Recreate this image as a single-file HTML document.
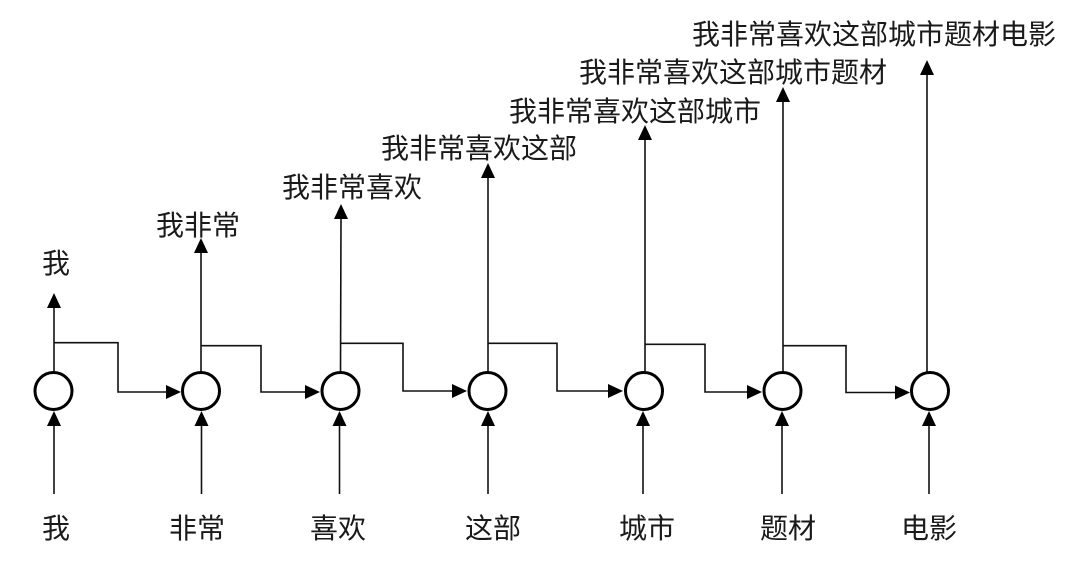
<!DOCTYPE html>
<html>
<head>
<meta charset="utf-8">
<style>
  html,body{margin:0;padding:0;background:#fff;}
  svg{display:block;}
  text{font-family:"Liberation Sans","Noto Sans CJK SC","WenQuanYi Zen Hei",sans-serif;font-size:28px;fill:#1a1a1a;}
</style>
</head>
<body>
<svg width="1080" height="569" viewBox="0 0 1080 569" xmlns="http://www.w3.org/2000/svg">
  <defs>
    <marker id="ah" markerWidth="10" markerHeight="10" refX="9" refY="5" orient="auto" markerUnits="userSpaceOnUse" viewBox="0 0 10 10">
      <path d="M0,0 L10,5 L0,10 z" fill="#000"/>
    </marker>
  </defs>

  <g stroke="#111" stroke-width="1.6" fill="none">
    <!-- up arrows to output labels -->
    <line x1="54" y1="372" x2="54" y2="307"/>
    <line x1="201" y1="372" x2="201" y2="252"/>
    <line x1="340.5" y1="372" x2="341" y2="218"/>
    <line x1="488" y1="372" x2="488" y2="177"/>
    <line x1="645" y1="372" x2="645" y2="139"/>
    <line x1="783" y1="372" x2="783" y2="101"/>
    <line x1="927" y1="372" x2="927" y2="74"/>

    <!-- recurrent connectors -->
    <polyline points="54,342.7 118,342.7 118,392 168,392"/>
    <polyline points="201,345.7 261,345.7 261,392 307,392"/>
    <polyline points="340.5,343.3 403,343.3 403,391 454,391"/>
    <polyline points="488,343.3 557,343.3 557,391 610,391"/>
    <polyline points="645,344.3 705,344.3 705,392 749,392"/>
    <polyline points="783,345.7 846,345.7 846,392.5 897,392.5"/>

    <!-- input arrows -->
    <line x1="54" y1="494" x2="54" y2="425"/>
    <line x1="201.5" y1="494" x2="201.5" y2="425"/>
    <line x1="339.5" y1="494" x2="339.5" y2="425"/>
    <line x1="488" y1="494" x2="488" y2="425"/>
    <line x1="643" y1="494" x2="643" y2="425"/>
    <line x1="782" y1="494" x2="782" y2="425"/>
    <line x1="929" y1="494" x2="929" y2="425"/>
  </g>

  <g fill="#000">
    <!-- up arrowheads (top outputs) -->
    <polygon points="54,293 47,308 61,308"/>
    <polygon points="201,238 194,253 208,253"/>
    <polygon points="341,204 334,219 348,219"/>
    <polygon points="488,163 481,178 495,178"/>
    <polygon points="645,125 638,140 652,140"/>
    <polygon points="783,87 776,102 790,102"/>
    <polygon points="927,60 920,75 934,75"/>

    <!-- right arrowheads into nodes -->
    <polygon points="181,392 166,385 166,399"/>
    <polygon points="320,392 305,385 305,399"/>
    <polygon points="467,391 452,384 452,398"/>
    <polygon points="623,391 608,384 608,398"/>
    <polygon points="762,392 747,385 747,399"/>
    <polygon points="910,392.5 895,385.5 895,399.5"/>

    <!-- input arrowheads -->
    <polygon points="54,411 47,426 61,426"/>
    <polygon points="201.5,411 194.5,426 208.5,426"/>
    <polygon points="339.5,411 332.5,426 346.5,426"/>
    <polygon points="488,411 481,426 495,426"/>
    <polygon points="643,411 636,426 650,426"/>
    <polygon points="782,411 775,426 789,426"/>
    <polygon points="929,411 922,426 936,426"/>
  </g>

  <!-- nodes -->
  <g stroke="#000" stroke-width="3" fill="#fff">
    <circle cx="53.5" cy="391" r="18.5"/>
    <circle cx="201" cy="391" r="18.5"/>
    <circle cx="340.5" cy="391" r="18.5"/>
    <circle cx="487.5" cy="391" r="18.5"/>
    <circle cx="644" cy="391" r="18.5"/>
    <circle cx="782.5" cy="391" r="18.5"/>
    <circle cx="930" cy="391" r="18.5"/>
  </g>

  <!-- output labels -->
  <text x="42" y="273">我</text>
  <text x="156" y="235">我非常</text>
  <text x="282" y="197">我非常喜欢</text>
  <text x="381" y="158">我非常喜欢这部</text>
  <text x="509" y="121">我非常喜欢这部城市</text>
  <text x="579" y="82">我非常喜欢这部城市题材</text>
  <text x="692" y="44">我非常喜欢这部城市题材电影</text>

  <!-- input labels -->
  <g text-anchor="middle">
    <text x="56" y="538">我</text>
    <text x="197" y="538">非常</text>
    <text x="338" y="538">喜欢</text>
    <text x="493" y="538">这部</text>
    <text x="647" y="538">城市</text>
    <text x="788" y="538">题材</text>
    <text x="929" y="538">电影</text>
  </g>
</svg>
</body>
</html>
